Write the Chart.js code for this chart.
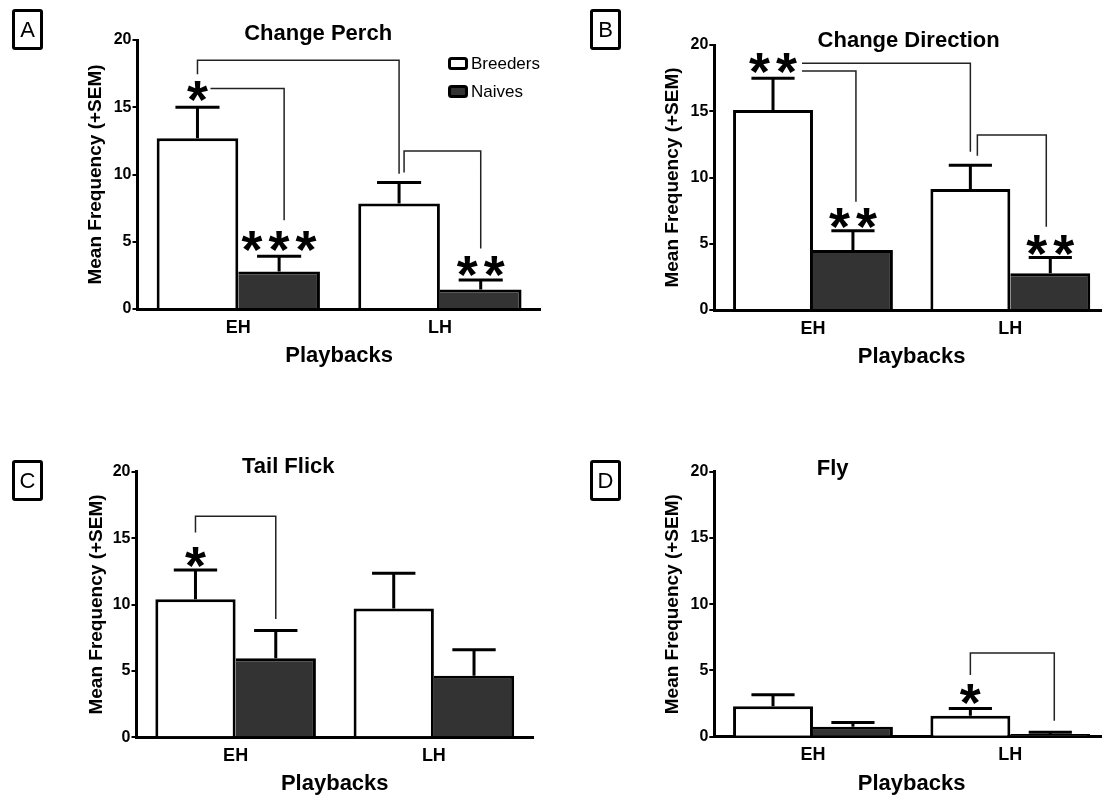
<!DOCTYPE html>
<html>
<head>
<meta charset="utf-8">
<title>Playback responses</title>
<script src="https://cdn.jsdelivr.net/npm/chart.js@4.4.1/dist/chart.umd.min.js"></script>
<style>
  html, body { margin: 0; padding: 0; background: #fff; overflow: hidden; }
  #fig { position: relative; width: 1102px; height: 798px; overflow: hidden; }
  canvas { position: absolute; }
  .tag {
    position: absolute; box-sizing: border-box; width: 31px; height: 41px;
    border: 3px solid #000; border-radius: 3px;
    font: 22px 'Liberation Sans', Arial, sans-serif;
    display: flex; align-items: center; justify-content: center;
  }
</style>
</head>
<body>
<div id="fig">
  <canvas id="cA" width="551" height="399" style="left:0;top:0"></canvas>
  <canvas id="cB" width="570" height="399" style="left:551px;top:0"></canvas>
  <canvas id="cC" width="551" height="399" style="left:0;top:399px"></canvas>
  <canvas id="cD" width="570" height="399" style="left:551px;top:399px"></canvas>
  <div class="tag" style="left:12px;top:9px">A</div>
  <div class="tag" style="left:590px;top:9px">B</div>
  <div class="tag" style="left:12px;top:460px">C</div>
  <div class="tag" style="left:590px;top:460px">D</div>
</div>
<script>
const categories = ['EH', 'LH'];
const groups = ['Breeders', 'Naives'];
const yTicks = [0, 5, 10, 15, 20];

// means and SEM, order [EH, LH]
const perchBreeders = [12.7, 7.85];
const perchBreedersSem = [2.3, 1.55];
const perchNaives = [2.78, 1.45];
const perchNaivesSem = [1.15, 0.7];

const directionBreeders = [15.1, 9.13];
const directionBreedersSem = [2.4, 1.8];
const directionNaives = [4.53, 2.77];
const directionNaivesSem = [1.45, 1.2];

const flickBreeders = [10.4, 9.7];
const flickBreedersSem = [2.2, 2.65];
const flickNaives = [5.95, 4.64];
const flickNaivesSem = [2.1, 1.95];

const flyBreeders = [2.3, 1.58];
const flyBreedersSem = [0.87, 0.55];
const flyNaives = [0.75, 0.2];
const flyNaivesSem = [0.33, 0.13];

// significance brackets, bar refs are [category, group], heights in data units
const perchBrackets = [
  {from: [0, 0], fromY: 17.45, top: 18.5, to: [1, 0], toY: 10.05},
  {from: [0, 0], fromGap: 13, top: 16.4, to: [0, 1], toGap: 5, toY: 6.6},
  {from: [1, 0], fromGap: 5, fromY: 10.15, top: 11.75, to: [1, 1], toY: 4.5}
];
const perchStars = [
  {bar: [0, 0], y: 16.2, text: '*'},
  {bar: [0, 1], y: 5.0, text: '***'},
  {bar: [1, 1], y: 3.15, text: '**'}
];

const directionBrackets = [
  {from: [0, 0], fromGap: 29, top: 18.62, to: [1, 0], toY: 11.95},
  {from: [0, 0], fromGap: 29, top: 18.04, to: [0, 1], toGap: 3, toY: 8.17},
  {from: [1, 0], fromGap: 7, fromY: 11.65, top: 13.2, to: [1, 1], toGap: -4, toY: 6.29}
];
const directionStars = [
  {bar: [0, 0], y: 18.6, text: '**'},
  {bar: [0, 1], y: 6.92, text: '**'},
  {bar: [1, 1], y: 4.9, text: '**'}
];

const flickBrackets = [
  {from: [0, 0], fromY: 15.43, top: 16.64, to: [0, 1], toY: 8.91}
];
const flickStars = [
  {bar: [0, 0], y: 13.53, text: '*'}
];

const flyBrackets = [
  {from: [1, 0], fromY: 4.65, top: 6.32, to: [1, 1], toGap: 4, toY: 1.21}
];
const flyStars = [
  {bar: [1, 0], y: 3.22, text: '*'}
];

const FONT = "'Liberation Sans', Arial, sans-serif";
Chart.defaults.font.family = FONT;
Chart.defaults.color = '#000';

const panels = [
  {canvas: 'cA', title: 'Change Perch', breeders: perchBreeders, breedersSem: perchBreedersSem,
   naives: perchNaives, naivesSem: perchNaivesSem, brackets: perchBrackets, stars: perchStars,
   area: {left: 137.5, right: 540.7, top: 40, bottom: 309}, yTitleX: 95.5, xTitleY: 355.6,
   titleShift: -21, titleY: 34, legend: {x: 448, y: 57}},
  {canvas: 'cB', title: 'Change Direction', breeders: directionBreeders, breedersSem: directionBreedersSem,
   naives: directionNaives, naivesSem: directionNaivesSem, brackets: directionBrackets, stars: directionStars,
   area: {left: 163.3, right: 558, top: 45, bottom: 310}, yTitleX: 122.1, xTitleY: 356.7,
   titleShift: -3, titleY: 40.7},
  {canvas: 'cC', title: 'Tail Flick', breeders: flickBreeders, breedersSem: flickBreedersSem,
   naives: flickNaives, naivesSem: flickNaivesSem, brackets: flickBrackets, stars: flickStars,
   area: {left: 136.5, right: 533, top: 72.7, bottom: 338.3}, yTitleX: 96.4, xTitleY: 385,
   titleShift: -46.5, titleY: 68.3},
  {canvas: 'cD', title: 'Fly', breeders: flyBreeders, breedersSem: flyBreedersSem,
   naives: flyNaives, naivesSem: flyNaivesSem, brackets: flyBrackets, stars: flyStars,
   area: {left: 163.3, right: 558, top: 72.7, bottom: 337.7}, yTitleX: 122.1, xTitleY: 385,
   titleShift: -79, titleY: 70}
];
const specs = {};
panels.forEach(p => { specs[p.canvas] = p; });

function drawStars(ctx, text, cx, cy) {
  ctx.save();
  ctx.font = 'bold 100px ' + FONT;
  let m = ctx.measureText('*');
  const size = 100 * 21 / (m.actualBoundingBoxLeft + m.actualBoundingBoxRight);
  ctx.font = 'bold ' + size.toFixed(1) + 'px ' + FONT;
  m = ctx.measureText('*');
  const gh = m.actualBoundingBoxAscent + m.actualBoundingBoxDescent;
  const base = cy + m.actualBoundingBoxAscent - gh / 2;
  const glyphMid = (m.actualBoundingBoxRight - m.actualBoundingBoxLeft) / 2;
  ctx.fillStyle = '#000';
  ctx.textAlign = 'left';
  ctx.textBaseline = 'alphabetic';
  const step = 27;
  for (let i = 0; i < text.length; i++) {
    const x = cx + (i - (text.length - 1) / 2) * step - glyphMid;
    ctx.fillText(text[i], x, base);
  }
  ctx.restore();
}

const figureMarks = {
  id: 'figureMarks',
  afterDatasetsDraw(chart) {
    const p = specs[chart.canvas.id];
    const ctx = chart.ctx;
    const y = chart.scales.y;
    const sems = [p.breedersSem, p.naivesSem];

    // error bars
    ctx.save();
    ctx.strokeStyle = '#000';
    ctx.lineWidth = 3;
    chart.data.datasets.forEach((ds, di) => {
      chart.getDatasetMeta(di).data.forEach((bar, i) => {
        const yTop = y.getPixelForValue(ds.data[i] + sems[di][i]);
        const half = bar.width * 0.27;
        ctx.beginPath();
        ctx.moveTo(bar.x, bar.y);
        ctx.lineTo(bar.x, yTop);
        ctx.moveTo(bar.x - half, yTop);
        ctx.lineTo(bar.x + half, yTop);
        ctx.stroke();
      });
    });
    ctx.restore();

    // brackets
    const xOf = (ref, gap) => chart.getDatasetMeta(ref[1]).data[ref[0]].x + (gap || 0);
    ctx.save();
    ctx.strokeStyle = '#222';
    ctx.lineWidth = 1.5;
    p.brackets.forEach(b => {
      const x1 = xOf(b.from, b.fromGap), x2 = xOf(b.to, b.toGap);
      const yt = y.getPixelForValue(b.top);
      ctx.beginPath();
      if (b.fromY != null) {
        ctx.moveTo(x1, y.getPixelForValue(b.fromY));
        ctx.lineTo(x1, yt);
      } else {
        ctx.moveTo(x1, yt);
      }
      ctx.lineTo(x2, yt);
      ctx.lineTo(x2, y.getPixelForValue(b.toY));
      ctx.stroke();
    });
    ctx.restore();

    p.stars.forEach(s => drawStars(ctx, s.text, xOf(s.bar), y.getPixelForValue(s.y)));
  },
  afterDraw(chart) {
    const p = specs[chart.canvas.id];
    const ctx = chart.ctx;
    const area = chart.chartArea;
    ctx.save();
    ctx.fillStyle = '#000';
    ctx.font = 'bold 22px ' + FONT;
    ctx.textAlign = 'center';
    ctx.textBaseline = 'middle';
    ctx.fillText(p.title, (area.left + area.right) / 2 + p.titleShift, p.titleY);

    if (p.legend) {
      ctx.font = '17px ' + FONT;
      ctx.textAlign = 'left';
      chart.data.datasets.forEach((ds, i) => {
        const bx = p.legend.x, by = p.legend.y + i * 28;
        ctx.fillStyle = ds.backgroundColor;
        ctx.strokeStyle = '#000';
        ctx.lineWidth = 3;
        ctx.beginPath();
        ctx.roundRect(bx + 1.5, by + 1.5, 17, 10, 2);
        ctx.fill();
        ctx.stroke();
        ctx.fillStyle = '#000';
        ctx.fillText(ds.label, bx + 23, by + 7);
      });
    }
    ctx.restore();
  }
};

function makePanel(p) {
  const el = document.getElementById(p.canvas);
  const W = el.width, H = el.height, a = p.area;
  const yTitleSize = 19, xTitleSize = 22;
  const yScaleLeft = p.yTitleX - yTitleSize * 1.2 / 2;
  const xScaleBottom = p.xTitleY + xTitleSize * 1.2 / 2;
  return new Chart(el, {
    type: 'bar',
    data: {
      labels: categories,
      datasets: [
        {label: groups[0], data: p.breeders, backgroundColor: '#ffffff', borderColor: '#000',
         borderWidth: {top: 3, left: 3, right: 3, bottom: 0}},
        {label: groups[1], data: p.naives, backgroundColor: '#333333', borderColor: '#000',
         borderWidth: {top: 3, left: 0, right: 3, bottom: 0}}
      ]
    },
    options: {
      responsive: false,
      animation: false,
      categoryPercentage: 0.81,
      barPercentage: 1,
      layout: {padding: {left: yScaleLeft, top: a.top, right: W - a.right, bottom: H - xScaleBottom}},
      plugins: {legend: {display: false}, tooltip: {enabled: false}, title: {display: false}},
      scales: {
        x: {
          grid: {display: false, drawTicks: false},
          border: {display: true, color: '#000', width: 3},
          ticks: {color: '#000', font: {size: 18, weight: 'bold'}, padding: 8},
          title: {display: true, text: 'Playbacks', color: '#000', font: {size: xTitleSize, weight: 'bold'}, padding: 0},
          afterFit: s => { s.height = xScaleBottom - a.bottom; }
        },
        y: {
          min: 0,
          max: 20,
          afterBuildTicks: s => { s.ticks = yTicks.map(v => ({value: v})); },
          grid: {display: true, drawOnChartArea: false, drawTicks: true, tickLength: 5, color: '#000', lineWidth: 2},
          border: {display: true, color: '#000', width: 3},
          ticks: {color: '#000', font: {size: 16, weight: 'bold'}, padding: 1},
          title: {display: true, text: 'Mean Frequency (+SEM)', color: '#000', font: {size: yTitleSize, weight: 'bold'}, padding: 0},
          afterFit: s => { s.width = a.left - yScaleLeft; }
        }
      }
    },
    plugins: [figureMarks]
  });
}

panels.forEach(makePanel);
</script>
</body>
</html>
